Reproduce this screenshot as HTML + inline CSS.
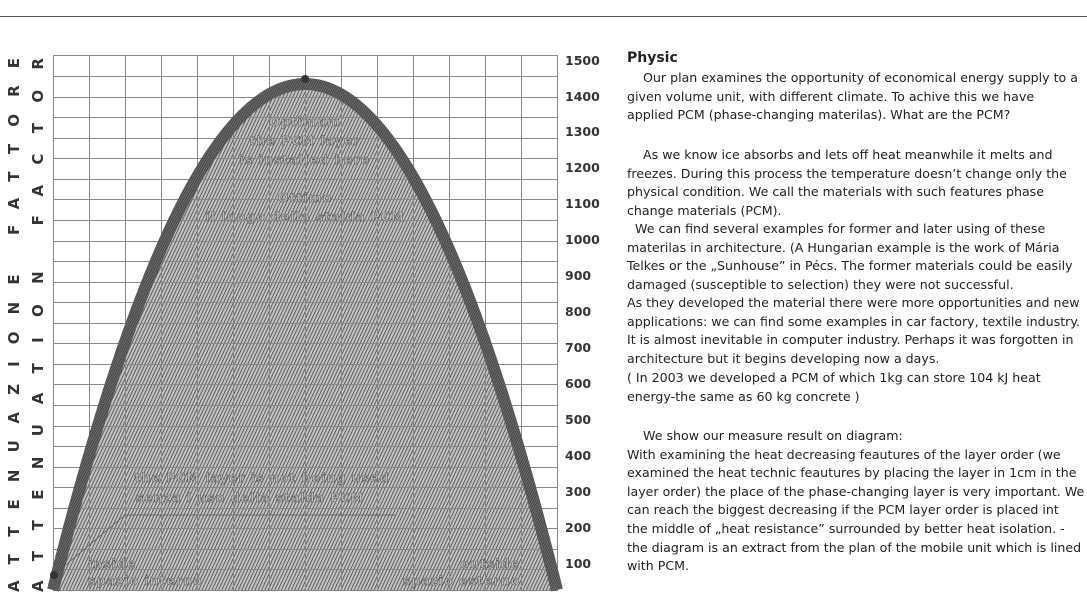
<!DOCTYPE html>
<html><head><meta charset="utf-8"><style>
body{margin:0;width:1087px;height:600px;background:#fff;position:relative;overflow:hidden;font-family:"DejaVu Sans","Liberation Sans",sans-serif;}
.t{position:absolute;left:627px;font-size:12.6px;color:#222;white-space:nowrap;line-height:16px;}
</style></head><body>
<div style="position:absolute;left:0;top:16px;width:1087px;height:1px;background:#555"></div>
<svg width="600" height="600" style="position:absolute;left:0;top:0">
<defs>
<pattern id="h" width="3" height="3" patternUnits="userSpaceOnUse" patternTransform="rotate(25)">
<rect width="3" height="3" fill="#c4c4c4"/><line x1="0" y1="0" x2="0" y2="3" stroke="#3a3a3a" stroke-width="1.5"/>
</pattern>
<pattern id="b" width="2" height="2" patternUnits="userSpaceOnUse" patternTransform="rotate(30)">
<rect width="2" height="2" fill="#666"/><line x1="0" y1="0" x2="0" y2="2" stroke="#333" stroke-width="1"/>
</pattern>
</defs>
<path d="M53,590 Q305,-422 557,590 Z" fill="url(#h)"/>
<g stroke="#888" stroke-width="1" fill="none">
<path d="M53.5,55.5H557.5V590.5H53.5Z"/>
<path d="M89.5,55V590M125.5,55V590M161.5,55V590M197.5,55V590M233.5,55V590M269.5,55V590M305.5,55V590M341.5,55V590M377.5,55V590M413.5,55V590M449.5,55V590M485.5,55V590M521.5,55V590"/>
<path d="M53,76.5H557M53,97.5H557M53,117.5H557M53,138.5H557M53,158.5H557M53,179.5H557M53,199.5H557M53,220.5H557M53,241.5H557M53,261.5H557M53,282.5H557M53,302.5H557M53,323.5H557M53,343.5H557M53,364.5H557M53,384.5H557M53,405.5H557M53,426.5H557M53,446.5H557M53,467.5H557M53,487.5H557M53,508.5H557M53,528.5H557M53,549.5H557M53,569.5H557"/>
</g>
<path d="M53,590 Q305,-422 557,590" fill="none" stroke="url(#b)" stroke-width="12"/>
<circle cx="305" cy="79" r="4" fill="#333"/>
<circle cx="54" cy="575" r="4" fill="#333"/>
<path d="M56,573 L125,515 H395" stroke="#555" stroke-width="0.8" fill="none"/>
<g font-family="DejaVu Sans,sans-serif" font-weight="bold" font-size="12.5" fill="#bbb" stroke="#555" stroke-width="0.6" text-anchor="middle" letter-spacing="1">
<text x="305" y="126">Optimum</text>
<text x="305" y="145">the PCM layer</text>
<text x="305" y="164">is installed here</text>
<text x="305" y="202">Ottimo</text>
<text x="305" y="221">il luogo della stalda PCM</text>
<text x="262" y="482">the PCM layer is not being used</text>
<text x="250" y="502">senza l uso della stalda PCM</text>
<text x="88" y="568" text-anchor="start">inside</text>
<text x="88" y="585" text-anchor="start">spazio interno</text>
<text x="520" y="568" text-anchor="end">outside</text>
<text x="520" y="585" text-anchor="end">spazio esterno</text>
</g>
<g font-family="DejaVu Sans,sans-serif" font-weight="bold" font-size="12.5" fill="#333" text-anchor="start">
<text x="565" y="65">1500</text><text x="565" y="101">1400</text><text x="565" y="136">1300</text><text x="565" y="172">1200</text><text x="565" y="208">1100</text><text x="565" y="244">1000</text><text x="565" y="280">900</text><text x="565" y="316">800</text><text x="565" y="352">700</text><text x="565" y="388">600</text><text x="565" y="424">500</text><text x="565" y="460">400</text><text x="565" y="496">300</text><text x="565" y="532">200</text><text x="565" y="568">100</text>
</g>
<g font-family="DejaVu Sans,sans-serif" font-weight="bold" font-size="15" fill="#333" text-anchor="start">
<text transform="translate(19,592) rotate(-90)" textLength="534" lengthAdjust="spacing">ATTENUAZIONE FATTORE</text>
<text transform="translate(43,592) rotate(-90)" textLength="534" lengthAdjust="spacing">ATTENUATION FACTOR</text>
</g>
</svg>
<div class="t" style="top:50px;font-weight:bold;font-size:14px">Physic</div>
<div class="t" style="top:70px">&nbsp;&nbsp;&nbsp;&nbsp;Our plan examines the opportunity of economical energy supply to a</div>
<div class="t" style="top:89px">given volume unit, with different climate. To achive this we have</div>
<div class="t" style="top:107px">applied PCM (phase-changing materilas). What are the PCM?</div>
<div class="t" style="top:147px">&nbsp;&nbsp;&nbsp;&nbsp;As we know ice absorbs and lets off heat meanwhile it melts and</div>
<div class="t" style="top:166px">freezes. During this process the temperature doesn’t change only the</div>
<div class="t" style="top:184px">physical condition. We call the materials with such features phase</div>
<div class="t" style="top:203px">change materials (PCM).</div>
<div class="t" style="top:221px">&nbsp;&nbsp;We can find several examples for former and later using of these</div>
<div class="t" style="top:240px">materilas in architecture. (A Hungarian example is the work of Mária</div>
<div class="t" style="top:258px">Telkes or the „Sunhouse” in Pécs. The former materials could be easily</div>
<div class="t" style="top:277px">damaged (susceptible to selection) they were not successful.</div>
<div class="t" style="top:295px">As they developed the material there were more opportunities and new</div>
<div class="t" style="top:314px">applications: we can find some examples in car factory, textile industry.</div>
<div class="t" style="top:332px">It is almost inevitable in computer industry. Perhaps it was forgotten in</div>
<div class="t" style="top:351px">architecture but it begins developing now a days.</div>
<div class="t" style="top:370px">( In 2003 we developed a PCM of which 1kg can store 104 kJ heat</div>
<div class="t" style="top:389px">energy-the same as 60 kg concrete )</div>
<div class="t" style="top:428px">&nbsp;&nbsp;&nbsp;&nbsp;We show our measure result on diagram:</div>
<div class="t" style="top:447px">With examining the heat decreasing feautures of the layer order (we</div>
<div class="t" style="top:465px">examined the heat technic feautures by placing the layer in 1cm in the</div>
<div class="t" style="top:484px">layer order) the place of the phase-changing layer is very important. We</div>
<div class="t" style="top:502px">can reach the biggest decreasing if the PCM layer order is placed int</div>
<div class="t" style="top:521px">the middle of „heat resistance” surrounded by better heat isolation. -</div>
<div class="t" style="top:540px">the diagram is an extract from the plan of the mobile unit which is lined</div>
<div class="t" style="top:558px">with PCM.</div>
</body></html>
